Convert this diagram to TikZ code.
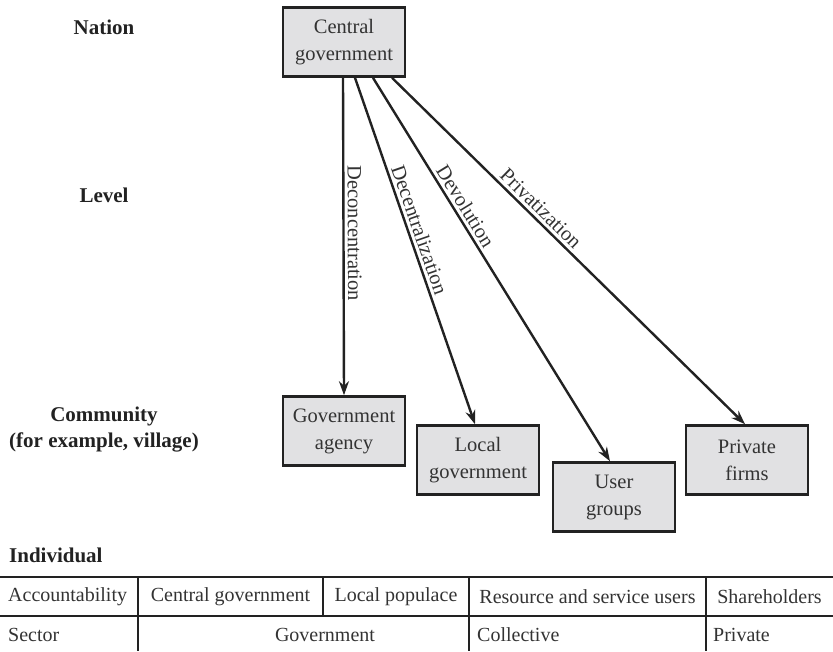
\documentclass[tikz,border=0pt]{standalone}
\usepackage{fontspec}
\setmainfont{Liberation Serif}
\usetikzlibrary{arrows.meta,positioning}
\definecolor{boxfill}{HTML}{E1E1E3}
\definecolor{ink}{HTML}{222222}
\definecolor{txt}{HTML}{333333}
\tikzset{
  actor/.style={draw=ink, line width=2.6pt, fill=boxfill, minimum width=122pt,
    minimum height=69pt, align=center, text=txt, inner sep=2pt,
    font=\fontsize{20.5}{27}\selectfont},
  flow/.style={draw=ink, line width=2.4pt, -{Stealth[length=14pt,width=10pt]}},
  flowlabel/.style={sloped, above, inner sep=3pt, text=txt, font=\fontsize{20.5}{24}\selectfont},
  levellabel/.style={align=center, text=ink, inner sep=0pt, font=\bfseries\fontsize{21}{26}\selectfont},
  cell/.style={text=txt, font=\fontsize{20}{22}\selectfont, inner sep=0pt},
  rule/.style={draw=ink, line width=2.4pt}
}
\begin{document}
\begin{tikzpicture}[x=1pt,y=-1pt]
\useasboundingbox (0,0) rectangle (833,651);

% administrative levels
\node[levellabel] (nation) at (104,27) {Nation};
\node[levellabel] (level) at (104,195) {Level};
\node[levellabel] (community) at (104,430) {Community\\(for example, village)};
\node[levellabel, anchor=west] (individual) at (9,555) {Individual};

% actors
\node[actor] (cg) at (344,42) {Central\\government};
\node[actor] (ga) at (344,431) {Government\\agency};
\node[actor] (lg) at (478,460) {Local\\government};
\node[actor] (ug) at (614,497) {User\\groups};
\node[actor] (pf) at (747,460) {Private\\firms};

% transfers of authority
\draw[flow] ([xshift=-1pt]cg.south) -- node[flowlabel, pos=0.49] {Deconcentration} (ga.north);
\draw[flow] ([xshift=11pt]cg.south) -- node[flowlabel, pos=0.45] {Decentralization} ([xshift=-3pt]lg.north);
\draw[flow] ([xshift=29pt]cg.south) -- node[flowlabel, pos=0.35] {Devolution} ([xshift=-4pt]ug.north);
\draw[flow] ([xshift=48pt]cg.south) -- node[flowlabel, pos=0.40] {Privatization} ([xshift=-2pt]pf.north);

% summary table
\coordinate (tl) at (0,577);
\coordinate (tr) at (833,577);
\coordinate (ml) at (0,616);
\coordinate (mr) at (833,616);
\draw[rule] (tl) -- (tr);
\draw[rule] (ml) -- (mr);
\foreach \cx in {138,469,706} {
  \coordinate (vt\cx) at (\cx,577);
  \coordinate (vb\cx) at (\cx,651);
  \draw[rule] (vt\cx) -- (vb\cx);
}
\coordinate (vt323) at (323,577);
\coordinate (vb323) at (323,616);
\draw[rule] (vt323) -- (vb323);

\node[cell, anchor=west] (acc) at (8,597) {Accountability};
\node[cell] (acccg) at (230.5,597) {Central government};
\node[cell] (acclp) at (396,597) {Local populace};
\node[cell] (accru) at (587.5,597) {Resource and service users};
\node[cell] (accsh) at (769.5,597) {Shareholders};

\node[cell, anchor=west] (sec) at (8,635) {Sector};
\node[cell] (secgov) at (325,635) {Government};
\node[cell, anchor=west] (seccol) at (477,635) {Collective};
\node[cell, anchor=west] (secpri) at (713,635) {Private};
\end{tikzpicture}
\end{document}
